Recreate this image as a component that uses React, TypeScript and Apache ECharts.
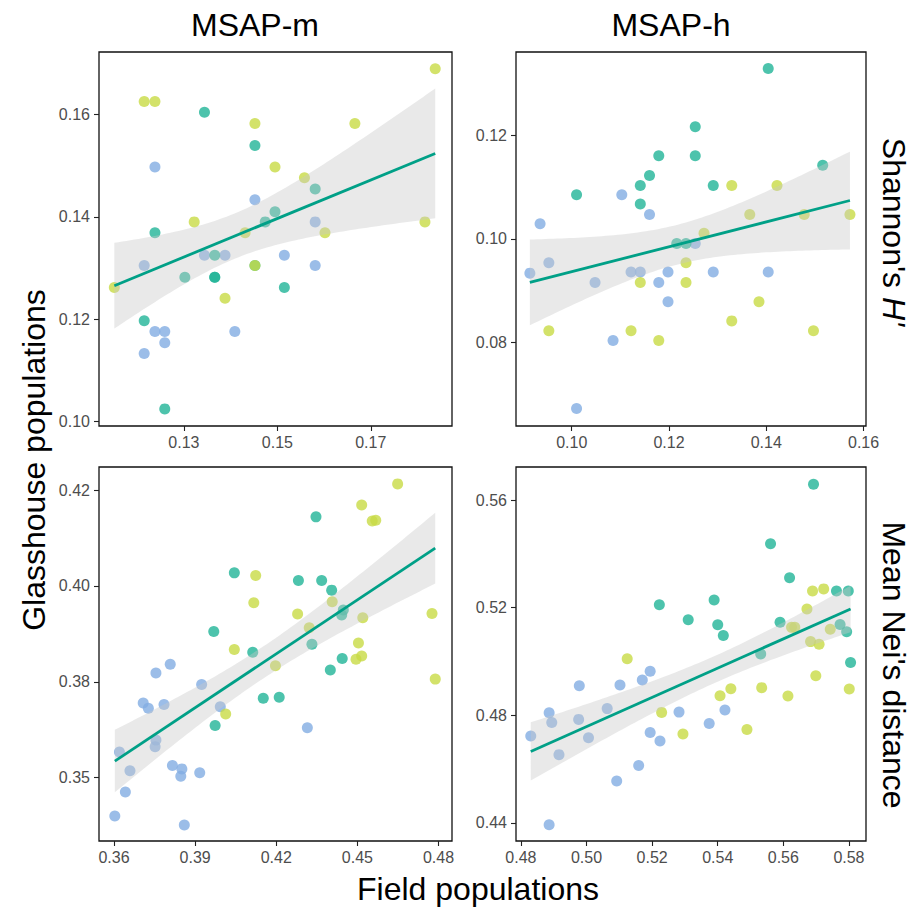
import React, { useEffect, useRef } from "react";
import * as echarts from "echarts";

// ---- Panel 1: MSAP-m, Shannon's H' ----
const mShBlue = [[0.1238,0.1497],[0.1452,0.1433],[0.1581,0.1390],[0.1215,0.1305],[0.1344,0.1325],[0.1388,0.1325],[0.1515,0.1325],[0.1581,0.1305],[0.1238,0.1176],[0.1259,0.1176],[0.1409,0.1176],[0.1259,0.1154],[0.1215,0.1133]];
const mShTeal = [[0.1344,0.1604],[0.1452,0.1539],[0.1581,0.1454],[0.1495,0.1410],[0.1474,0.1390],[0.1238,0.1369],[0.1366,0.1325],[0.1302,0.1282],[0.1366,0.1282],[0.1366,0.1282],[0.1452,0.1305],[0.1515,0.1262],[0.1215,0.1197],[0.1259,0.1025]];
const mShYellow = [[0.1838,0.1689],[0.1215,0.1625],[0.1238,0.1625],[0.1452,0.1582],[0.1666,0.1582],[0.1495,0.1497],[0.1558,0.1476],[0.1322,0.1390],[0.1816,0.1390],[0.1431,0.1369],[0.1602,0.1369],[0.1452,0.1305],[0.1151,0.1262],[0.1388,0.1241]];

// ---- Panel 2: MSAP-h, Shannon's H' ----
const hShBlue = [[0.0914,0.0934],[0.0935,0.1029],[0.0953,0.0954],[0.1103,0.1085],[0.1160,0.1047],[0.1254,0.0991],[0.1048,0.0916],[0.1122,0.0936],[0.1141,0.0936],[0.1179,0.0916],[0.1198,0.0936],[0.1291,0.0936],[0.1404,0.0936],[0.1198,0.0879],[0.1085,0.0804],[0.1010,0.0673]];
const hShTeal = [[0.1404,0.1328],[0.1254,0.1216],[0.1179,0.1160],[0.1254,0.1160],[0.1516,0.1142],[0.1160,0.1122],[0.1141,0.1103],[0.1291,0.1103],[0.1010,0.1085],[0.1141,0.1067],[0.1216,0.0991],[0.1235,0.0991]];
const hShYellow = [[0.0953,0.0823],[0.1329,0.1103],[0.1422,0.1103],[0.1366,0.1047],[0.1478,0.1047],[0.1572,0.1047],[0.1272,0.1011],[0.1235,0.0954],[0.1141,0.0916],[0.1235,0.0916],[0.1385,0.0879],[0.1329,0.0842],[0.1122,0.0823],[0.1497,0.0823],[0.1179,0.0804]];

// ---- Panel 3: MSAP-m, Mean Nei's distance ----
const mNeBlue = [[0.3808,0.3796],[0.3755,0.3773],[0.3924,0.3743],[0.3708,0.3695],[0.3727,0.3681],[0.3785,0.3691],[0.3993,0.3685],[0.4315,0.3630],[0.3755,0.3598],[0.3752,0.3581],[0.3620,0.3567],[0.3659,0.3518],[0.3816,0.3532],[0.3851,0.3523],[0.3847,0.3504],[0.3917,0.3513],[0.3642,0.3463],[0.3603,0.3400],[0.3860,0.3377]];
const mNeTeal = [[0.4347,0.4180],[0.4045,0.4034],[0.4282,0.4014],[0.4368,0.4014],[0.4405,0.3989],[0.4448,0.3937],[0.4442,0.3924],[0.3969,0.3881],[0.4332,0.3848],[0.4113,0.3827],[0.4444,0.3811],[0.4400,0.3781],[0.4152,0.3707],[0.4211,0.3710],[0.3974,0.3636]];
const mNeYellow = [[0.4649,0.4266],[0.4516,0.4211],[0.4555,0.4169],[0.4568,0.4171],[0.4124,0.4027],[0.4117,0.3956],[0.4407,0.3959],[0.4279,0.3927],[0.4520,0.3917],[0.4776,0.3928],[0.4322,0.3891],[0.4045,0.3834],[0.4504,0.3851],[0.4495,0.3809],[0.4516,0.3817],[0.4197,0.3792],[0.4788,0.3757],[0.4013,0.3666]];

// ---- Panel 4: MSAP-h, Mean Nei's distance ----
const hNeBlue = [[0.4830,0.4723],[0.4886,0.4810],[0.4894,0.4773],[0.4886,0.4393],[0.4916,0.4654],[0.5194,0.4964],[0.5170,0.4931],[0.5102,0.4913],[0.4978,0.4910],[0.5063,0.4825],[0.4976,0.4785],[0.5006,0.4717],[0.5282,0.4812],[0.5422,0.4820],[0.5374,0.4770],[0.5194,0.4736],[0.5224,0.4705],[0.5159,0.4614],[0.5092,0.4556]];
const hNeTeal = [[0.5692,0.5659],[0.5561,0.5438],[0.5619,0.5311],[0.5762,0.5262],[0.5798,0.5262],[0.5222,0.5211],[0.5389,0.5229],[0.5310,0.5155],[0.5400,0.5137],[0.5417,0.5097],[0.5590,0.5146],[0.5773,0.5138],[0.5793,0.5111],[0.5805,0.4996],[0.5531,0.5028]];
const hNeYellow = [[0.5689,0.5262],[0.5723,0.5270],[0.5672,0.5195],[0.5625,0.5127],[0.5635,0.5127],[0.5743,0.5120],[0.5683,0.5074],[0.5709,0.5064],[0.5124,0.5010],[0.5699,0.4947],[0.5801,0.4898],[0.5440,0.4899],[0.5534,0.4903],[0.5407,0.4873],[0.5614,0.4872],[0.5229,0.4811],[0.5294,0.4731],[0.5489,0.4747]];

// ---- Axis ranges and ticks ----
const xRanges = [[0.11182, 0.18739], [0.08855, 0.1605], [0.35445, 0.485], [0.4785, 0.5852]];
const yRanges = [[0.09916, 0.17216], [0.06395, 0.136], [0.3335, 0.431], [0.4333, 0.5723]];
const xTicks = [[0.13, 0.15, 0.17], [0.10, 0.12, 0.14, 0.16], [0.36, 0.39, 0.42, 0.45, 0.48], [0.48, 0.50, 0.52, 0.54, 0.56, 0.58]];
const xTickLabels = [["0.13", "0.15", "0.17"], ["0.10", "0.12", "0.14", "0.16"], ["0.36", "0.39", "0.42", "0.45", "0.48"], ["0.48", "0.50", "0.52", "0.54", "0.56", "0.58"]];
const yTicks = [[0.10, 0.12, 0.14, 0.16], [0.08, 0.10, 0.12], [0.35, 0.375, 0.40, 0.425], [0.44, 0.48, 0.52, 0.56]];
const yTickLabels = [["0.10", "0.12", "0.14", "0.16"], ["0.08", "0.10", "0.12"], ["0.35", "0.38", "0.40", "0.42"], ["0.44", "0.48", "0.52", "0.56"]];

const columnTitles = ["MSAP-m", "MSAP-h"];
const xTitle = "Field populations";
const yTitle = "Glasshouse populations";

const panels = [
  [mShBlue, mShTeal, mShYellow],
  [hShBlue, hShTeal, hShYellow],
  [mNeBlue, mNeTeal, mNeYellow],
  [hNeBlue, hNeTeal, hNeYellow],
];

const groupColors = ["#82ACE2", "#20B497", "#C8DB45"];
const FONT = "'Liberation Sans', Arial, Helvetica, sans-serif";

const grids = [
  { left: 99, top: 52, width: 353, height: 374 },
  { left: 516, top: 52, width: 350, height: 374 },
  { left: 99, top: 467, width: 353, height: 374 },
  { left: 516, top: 467, width: 350, height: 374 },
];

function tQuantile(df: number) {
  const z = 1.959964;
  return z + (z ** 3 + z) / (4 * df) + (5 * z ** 5 + 16 * z ** 3 + 3 * z) / (96 * df * df);
}

function lmFit(pts: number[][]) {
  const n = pts.length;
  const mx = pts.reduce((s, p) => s + p[0], 0) / n;
  const my = pts.reduce((s, p) => s + p[1], 0) / n;
  let sxx = 0, sxy = 0;
  pts.forEach((p) => { sxx += (p[0] - mx) ** 2; sxy += (p[0] - mx) * (p[1] - my); });
  const b = sxy / sxx;
  const a = my - b * mx;
  let sse = 0;
  pts.forEach((p) => { sse += (p[1] - a - b * p[0]) ** 2; });
  const s = Math.sqrt(sse / (n - 2));
  const t = tQuantile(n - 2);
  const xmin = Math.min(...pts.map((p) => p[0]));
  const xmax = Math.max(...pts.map((p) => p[0]));
  const band: number[][] = [];
  const N = 80;
  for (let i = 0; i <= N; i++) {
    const x = xmin + ((xmax - xmin) * i) / N;
    const yh = a + b * x;
    const se = s * Math.sqrt(1 / n + (x - mx) ** 2 / sxx);
    band.push([x, yh - t * se, yh + t * se]);
  }
  return { line: [[xmin, a + b * xmin], [xmax, a + b * xmax]], band };
}

export default function App() {
  const ref = useRef<HTMLDivElement>(null);
  useEffect(() => {
    if (!ref.current) return;
    const chart = echarts.init(ref.current, undefined, { renderer: "svg" });
    const xAxis: any[] = [];
    const yAxis: any[] = [];
    const series: any[] = [];
    panels.forEach((groups, i) => {
      xAxis.push({
        type: "value", gridIndex: i, min: xRanges[i][0], max: xRanges[i][1],
        splitLine: { show: false }, axisLine: { show: false },
        axisTick: { show: true, length: 5, customValues: xTicks[i], lineStyle: { color: "#222", width: 1.1 } },
        axisLabel: {
          customValues: xTicks[i], margin: 8, color: "#4D4D4D", fontSize: 16, fontFamily: FONT,
          formatter: (v: number) => { const k = xTicks[i].findIndex((t) => Math.abs(t - v) < 1e-9); return k >= 0 ? xTickLabels[i][k] : ""; },
        },
      });
      yAxis.push({
        type: "value", gridIndex: i, min: yRanges[i][0], max: yRanges[i][1],
        splitLine: { show: false }, axisLine: { show: false },
        axisTick: { show: true, length: 5, customValues: yTicks[i], lineStyle: { color: "#222", width: 1.1 } },
        axisLabel: {
          customValues: yTicks[i], margin: 9, color: "#4D4D4D", fontSize: 16, fontFamily: FONT,
          formatter: (v: number) => { const k = yTicks[i].findIndex((t) => Math.abs(t - v) < 1e-9); return k >= 0 ? yTickLabels[i][k] : ""; },
        },
      });
      groups.forEach((g, gi) => {
        series.push({
          type: "scatter", xAxisIndex: i, yAxisIndex: i, data: g, symbolSize: 11, z: 2,
          itemStyle: { color: groupColors[gi], opacity: 0.8 },
        });
      });
      const all = groups.flat();
      const f = lmFit(all);
      series.push({
        type: "custom", xAxisIndex: i, yAxisIndex: i, coordinateSystem: "cartesian2d", z: 3,
        data: [[f.band[0][0], f.band[0][1]]], encode: { x: 0, y: 1 },
        renderItem: (params: any, api: any) => {
          if (params.dataIndex !== 0) return null;
          const up = f.band.map((b) => api.coord([b[0], b[2]]));
          const lo = f.band.map((b) => api.coord([b[0], b[1]])).reverse();
          return { type: "polygon", shape: { points: up.concat(lo) }, style: { fill: "rgba(200,200,200,0.4)", stroke: "none" } };
        },
        silent: true,
      });
      series.push({
        type: "line", xAxisIndex: i, yAxisIndex: i, data: f.line, showSymbol: false, z: 4,
        lineStyle: { color: "#00A087", width: 2.8 }, silent: true,
      });
    });

    const titleStyle = { fill: "#000", fontSize: 32, fontFamily: FONT, align: "center", verticalAlign: "middle" };
    chart.setOption({
      animation: false,
      backgroundColor: "#fff",
      grid: grids.map((g) => ({ ...g, show: true, borderColor: "#111", borderWidth: 1.3, backgroundColor: "transparent" })),
      xAxis, yAxis, series,
      graphic: [
        { type: "text", x: 255, y: 25, style: { ...titleStyle, text: columnTitles[0] } },
        { type: "text", x: 671, y: 25, style: { ...titleStyle, text: columnTitles[1] } },
        { type: "text", x: 478, y: 889, style: { ...titleStyle, text: xTitle } },
        { type: "text", x: 34, y: 460, rotation: Math.PI / 2, style: { ...titleStyle, text: yTitle } },
        {
          type: "text", x: 894, y: 232, rotation: -Math.PI / 2,
          style: {
            ...titleStyle, text: "{a|Shannon's }{b|H'}",
            rich: { a: { fontSize: 32, fontFamily: FONT, fill: "#000" }, b: { fontSize: 32, fontFamily: FONT, fontStyle: "italic", fill: "#000" } },
          },
        },
        { type: "text", x: 894, y: 665, rotation: -Math.PI / 2, style: { ...titleStyle, text: "Mean Nei's distance" } },
      ],
    });
    return () => chart.dispose();
  }, []);
  return <div ref={ref} style={{ position: "absolute", left: 0, top: 0, width: 923, height: 910 }} />;
}
